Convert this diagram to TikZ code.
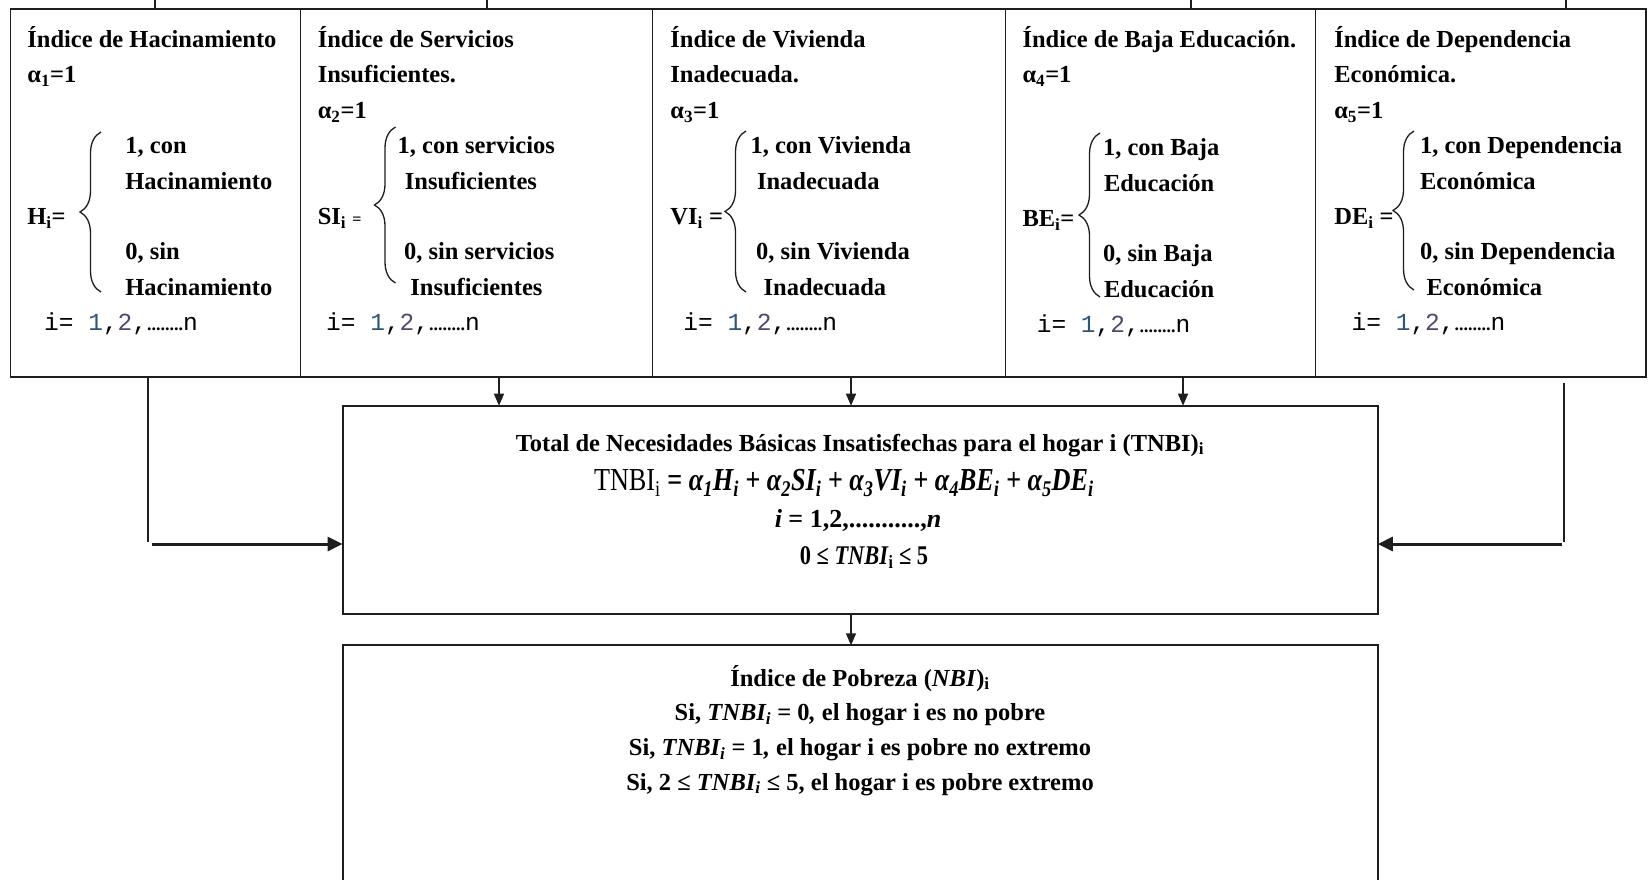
\documentclass[tikz,border=0pt]{standalone}
\usepackage{fontspec}
\setmainfont{Liberation Serif}
\newfontfamily\monof{Liberation Mono}
\usepackage{graphicx}
\usetikzlibrary{arrows.meta,decorations.pathreplacing,calc}
\definecolor{ink}{RGB}{30,30,30}
\definecolor{oneclr}{RGB}{45,85,120}
\definecolor{twoclr}{RGB}{85,70,110}
\newcommand{\idxline}{{\monof\mdseries\fontsize{24.5}{30}\selectfont i= \textcolor{oneclr}{1},\textcolor{twoclr}{2},{\rmfamily\bfseries\fontsize{18}{18}\selectfont ........}n}}
\tikzset{
 cell/.style={draw=ink, line width=1.3pt, inner sep=0pt, outer sep=0pt, minimum height=368pt},
 txt/.style={anchor=base west, inner sep=0pt, outer sep=0pt},
 ctxt/.style={anchor=base, inner sep=0pt, outer sep=0pt},
 bigbox/.style={draw=ink, line width=1.8pt, inner sep=0pt, outer sep=0pt, minimum width=1035.2pt},
 arr/.style={ink, line width=1.4pt, -{Triangle[length=12pt,width=10pt]}},
 sidearr/.style={ink, line width=3pt, -{Triangle[length=15pt,width=14pt]}},
 conn/.style={ink, line width=1.6pt},
 brc/.style={ink, line width=1.3pt, decorate, decoration={brace, amplitude=21pt}},
}
\begin{document}
\begin{tikzpicture}[x=1pt,y=-1pt, font=\bfseries\fontsize{24.5}{35.4}\selectfont]
\useasboundingbox[fill=white] (0,0) rectangle (1648,879);

% table cells
\node[cell, minimum width=290.1pt] (col1) at (155.55,193) {};
\node[cell, minimum width=352pt] (col2) at (476.6,193) {};
\node[cell, minimum width=353.2pt] (col3) at (829.2,193) {};
\node[cell, minimum width=310pt] (col4) at (1160.8,193) {};
\node[cell, minimum width=330.2pt] (col5) at (1480.9,193) {};
\draw[ink, line width=2.4pt] (col1.north west) -- (col5.north east);
\draw[ink, line width=2.2pt] (col1.south west) -- (col5.south east);

% ticks from above
\coordinate (tk1) at (155,0);
\coordinate (tk2) at (487,0);
\coordinate (tk3) at (1191,0);
\coordinate (tk4) at (1566,0);
\draw[conn] (tk1) -- (tk1 |- col1.north);
\draw[conn] (tk2) -- (tk2 |- col2.north);
\draw[conn] (tk3) -- (tk3 |- col4.north);
\draw[conn] (tk4) -- (tk4 |- col5.north);

% column 1
\node[txt] (h1) at (27.4,47.5) {Índice de Hacinamiento};
\node[txt] (h2) at (27.4,82.9) {α\textsubscript{1}=1};
\node[txt] (h3) at (125.4,153.7) {1, con};
\node[txt] (h4) at (125.4,189.1) {Hacinamiento};
\node[txt] (h5) at (27.4,224.5) {H\textsubscript{i}=};
\node[txt] (h6) at (125.4,259.9) {0, sin};
\node[txt] (h7) at (125.4,295.3) {Hacinamiento};
\node[txt] (h8) at (44.2,330.7) {\idxline};
\draw[brc] (101,292) -- (101,132);

% column 2
\node[txt] (s1) at (317.8,47.5) {Índice de Servicios};
\node[txt] (s2) at (317.8,82.9) {Insuficientes.};
\node[txt] (s3) at (317.8,118.3) {α\textsubscript{2}=1};
\node[txt] (s4) at (397.7,153.7) {1, con servicios};
\node[txt] (s5) at (404.9,189.1) {Insuficientes};
\node[txt] (s6) at (317.8,224.5) {SI\textsubscript{i} {\fontsize{16}{16}\selectfont =}};
\node[txt] (s7) at (404,259.9) {0, sin servicios};
\node[txt] (s8) at (410.4,295.3) {Insuficientes};
\node[txt] (s9) at (326.2,330.7) {\idxline};
\draw[brc] (395.5,283) -- (395.5,127);

% column 3
\node[txt] (v1) at (670.4,47.5) {Índice de Vivienda};
\node[txt] (v2) at (670.4,82.9) {Inadecuada.};
\node[txt] (v3) at (670.4,118.3) {α\textsubscript{3}=1};
\node[txt] (v4) at (750.6,153.7) {1, con Vivienda};
\node[txt] (v5) at (757,189.1) {Inadecuada};
\node[txt] (v6) at (670.4,224.5) {VI\textsubscript{i} =};
\node[txt] (v7) at (756.2,259.9) {0, sin Vivienda};
\node[txt] (v8) at (763.6,295.3) {Inadecuada};
\node[txt] (v9) at (683.4,330.7) {\idxline};
\draw[brc] (746,292) -- (746,131);

% column 4
\node[txt] (b1) at (1022.5,47.5) {Índice de Baja Educación.};
\node[txt] (b2) at (1022.5,82.9) {α\textsubscript{4}=1};
\node[txt] (b4) at (1103,155.7) {1, con Baja};
\node[txt] (b5) at (1104,191.1) {Educación};
\node[txt] (b6) at (1022.5,226.5) {BE\textsubscript{i}=};
\node[txt] (b7) at (1103,261.9) {0, sin Baja};
\node[txt] (b8) at (1104,297.3) {Educación};
\node[txt] (b9) at (1036.8,332.7) {\idxline};
\draw[brc] (1100,297) -- (1100,133);

% column 5
\node[txt] (d1) at (1334.3,47.5) {Índice de Dependencia};
\node[txt] (d2) at (1334.3,82.9) {Económica.};
\node[txt] (d3) at (1334.3,118.3) {α\textsubscript{5}=1};
\node[txt] (d4) at (1420,153.7) {1, con Dependencia};
\node[txt] (d5) at (1420,189.1) {Económica};
\node[txt] (d6) at (1334.3,224.5) {DE\textsubscript{i} =};
\node[txt] (d7) at (1420,259.9) {0, sin Dependencia};
\node[txt] (d8) at (1426.5,295.3) {Económica};
\node[txt] (d9) at (1351.7,330.7) {\idxline};
\draw[brc] (1414,290) -- (1414,131);

% boxes
\node[bigbox, minimum height=208.1pt] (tnbi) at (860.2,509.75) {};
\node[bigbox, minimum height=260pt] (nbi) at (860.2,775.3) {};

\node[ctxt] (tt1) at (860,451) {Total de Necesidades Básicas Insatisfechas para el hogar i (TNBI)\textsubscript{i}};
\node[txt] (tt2) at (594,490) {\scalebox{0.82}[1]{\fontsize{32}{32}\selectfont{\mdseries TNBI\textsubscript{i}} = \textit{α\textsubscript{1}H\textsubscript{i} + α\textsubscript{2}SI\textsubscript{i} + α\textsubscript{3}VI\textsubscript{i} + α\textsubscript{4}BE\textsubscript{i} + α\textsubscript{5}DE\textsubscript{i}}}};
\node[ctxt] (tt3) at (858,527) {\fontsize{26}{26}\selectfont\textit{i} = 1,2,...........,\textit{n}};
\node[ctxt] (tt4) at (864,564) {\scalebox{0.83}[1]{\fontsize{27}{27}\selectfont 0 ≤ \textit{TNBI}\textsubscript{i} ≤ 5}};

\node[ctxt] (p1) at (860,686) {Índice de Pobreza (\textit{NBI})\textsubscript{i}};
\node[ctxt] (p2) at (860,720.5) {Si, \textit{TNBI\textsubscript{i}} = 0\textit{,} el hogar i es no pobre};
\node[ctxt] (p3) at (860,755.5) {Si, \textit{TNBI\textsubscript{i}} = 1\textit{,} el hogar i es pobre no extremo};
\node[ctxt] (p4) at (860,790) {Si, 2 ≤ \textit{TNBI\textsubscript{i}} ≤ 5, el hogar i es pobre extremo};

% connectors
\coordinate (ax1) at (499,0);
\coordinate (ax2) at (851,0);
\coordinate (ax3) at (1183,0);
\draw[arr] (col2.south -| ax1) -- (tnbi.north -| ax1);
\draw[arr] (col3.south -| ax2) -- (tnbi.north -| ax2);
\draw[arr] (col4.south -| ax3) -- (tnbi.north -| ax3);
\draw[arr] (tnbi.south -| ax2) -- (nbi.north -| ax2);

\coordinate (lc) at (148,542);
\coordinate (ls) at (152,544);
\draw[conn] (col1.south -| lc) -- (lc);
\draw[sidearr] (ls) -- (tnbi.west |- ls);

\coordinate (rt) at (1564,383);
\coordinate (rc) at (1564,542);
\coordinate (rs) at (1562,544);
\draw[conn] (rt) -- (rc);
\draw[sidearr] (rs) -- (tnbi.east |- rs);
\end{tikzpicture}
\end{document}
